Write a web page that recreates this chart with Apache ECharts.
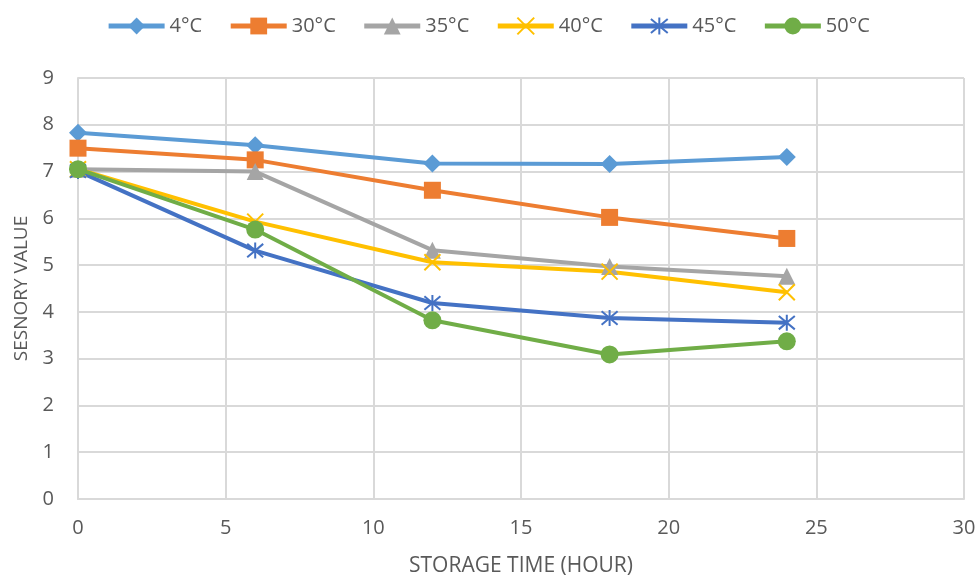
<!DOCTYPE html>
<html>
<head>
<meta charset="utf-8">
<script src="https://cdn.jsdelivr.net/npm/echarts@6/dist/echarts.min.js"></script>
<style>
  html, body { margin: 0; padding: 0; background: #fff; }
  #chart { width: 976px; height: 575px; }
</style>
</head>
<body>
<div id="chart"></div>
<script>
// Storage time points (hours)
const hours = [0, 6, 12, 18, 24];

// Sensory scores per storage temperature
const t4  = [7.83, 7.56, 7.17, 7.16, 7.31];
const t30 = [7.50, 7.25, 6.60, 6.02, 5.57];
const t35 = [7.05, 7.00, 5.32, 4.97, 4.76];
const t40 = [7.05, 5.93, 5.06, 4.86, 4.42];
const t45 = [7.01, 5.31, 4.19, 3.87, 3.77];
const t50 = [7.05, 5.76, 3.82, 3.09, 3.37];

const seriesNames = ['4°C', '30°C', '35°C', '40°C', '45°C', '50°C'];
const xTicks = [0, 5, 10, 15, 20, 25, 30];
const yTicks = [0, 1, 2, 3, 4, 5, 6, 7, 8, 9];

const FONT = '"Open Sans", "Noto Sans", sans-serif';
const TEXT = '#595959';
const GRID = '#d9d9d9';

const pairs = arr => hours.map((h, i) => [h, arr[i]]);

const crossPath = 'path://M0,0L10,10M10,0L0,10';
const starPath = 'path://M5,0L5,10M0.8,0.8L9.2,9.2M9.2,0.8L0.8,9.2';

function lineSeries(name, values, color, symbol, size, stroked) {
  return {
    name: name,
    type: 'line',
    data: pairs(values),
    symbol: symbol,
    symbolSize: size,
    showAllSymbol: true,
    color: color,
    lineStyle: { color: color, width: 4 },
    itemStyle: stroked
      ? { color: color, borderColor: color, borderWidth: 2 }
      : { color: color, borderWidth: 0 },
    emphasis: { disabled: true },
    z: 2
  };
}

const chart = echarts.init(document.getElementById('chart'), null, { renderer: 'canvas' });

chart.setOption({
  animation: false,
  backgroundColor: '#ffffff',
  textStyle: { fontFamily: FONT },
  legend: {
    top: 11,
    left: 'center',
    itemWidth: 56,
    itemHeight: 21,
    itemGap: 26,
    lineStyle: { width: 5 },
    textStyle: { color: TEXT, fontSize: 20, fontFamily: FONT },
    data: seriesNames
  },
  grid: {
    left: 78, right: 12, top: 78, bottom: 76,
    containLabel: false,
    outerBoundsMode: 'none'
  },
  xAxis: {
    type: 'value',
    min: xTicks[0],
    max: xTicks[xTicks.length - 1],
    interval: 5,
    name: 'STORAGE TIME (HOUR)',
    nameLocation: 'middle',
    nameGap: 57,
    nameTextStyle: { color: TEXT, fontSize: 21, fontFamily: FONT },
    axisLine: { show: true, lineStyle: { color: GRID, width: 2 } },
    axisTick: { show: false },
    axisLabel: { color: TEXT, fontSize: 20, margin: 19, fontFamily: FONT },
    splitLine: { show: true, lineStyle: { color: GRID, width: 2 } }
  },
  yAxis: {
    type: 'value',
    min: yTicks[0],
    max: yTicks[yTicks.length - 1],
    interval: 1,
    name: 'SESNORY VALUE',
    nameLocation: 'middle',
    nameGap: 47,
    nameTextStyle: { color: TEXT, fontSize: 19, fontFamily: FONT },
    axisLine: { show: true, lineStyle: { color: GRID, width: 2 } },
    axisTick: { show: false },
    axisLabel: { color: TEXT, fontSize: 20, margin: 24, fontFamily: FONT },
    splitLine: { show: true, lineStyle: { color: GRID, width: 2 } }
  },
  series: [
    lineSeries(seriesNames[0], t4,  '#5b9bd5', 'diamond', 18, false),
    lineSeries(seriesNames[1], t30, '#ed7d31', 'rect', 17, false),
    lineSeries(seriesNames[2], t35, '#a5a5a5', 'triangle', 17, false),
    lineSeries(seriesNames[3], t40, '#ffc000', crossPath, 16, true),
    lineSeries(seriesNames[4], t45, '#4472c4', starPath, 16, true),
    lineSeries(seriesNames[5], t50, '#70ad47', 'circle', 18, false)
  ]
});
</script>
</body>
</html>
